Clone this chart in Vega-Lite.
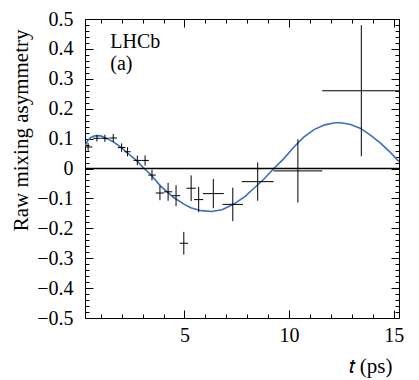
{
  "$schema": "https://vega.github.io/schema/vega-lite/v6.json",
  "width": 314,
  "height": 299,
  "autosize": {"type": "none"},
  "padding": {"left": 85, "top": 19, "right": 20, "bottom": 62},
  "background": "white",
  "config": {
    "view": {"stroke": null},
    "font": "Liberation Serif",
    "axis": {
      "labelFontSize": 20,
      "labelColor": "black",
      "titleFontSize": 21,
      "titleFontWeight": "normal",
      "titleColor": "black",
      "domainColor": "black",
      "domainWidth": 1,
      "tickColor": "black",
      "tickWidth": 1,
      "grid": false
    }
  },
  "datasets": {
    "points": [
      {"t": 0.4, "v": 0.072, "terr": 0.2, "verr": 0.013},
      {"t": 0.82, "v": 0.101, "terr": 0.18, "verr": 0.011},
      {"t": 1.2, "v": 0.101, "terr": 0.18, "verr": 0.012},
      {"t": 1.6, "v": 0.102, "terr": 0.18, "verr": 0.013},
      {"t": 2.0, "v": 0.07, "terr": 0.18, "verr": 0.014},
      {"t": 2.28, "v": 0.056, "terr": 0.15, "verr": 0.015},
      {"t": 2.75, "v": 0.027, "terr": 0.18, "verr": 0.016},
      {"t": 3.12, "v": 0.027, "terr": 0.18, "verr": 0.017},
      {"t": 3.45, "v": -0.022, "terr": 0.18, "verr": 0.018},
      {"t": 3.83, "v": -0.082, "terr": 0.2, "verr": 0.024},
      {"t": 4.22, "v": -0.078, "terr": 0.2, "verr": 0.03},
      {"t": 4.6, "v": -0.091, "terr": 0.2, "verr": 0.035},
      {"t": 4.97, "v": -0.25, "terr": 0.2, "verr": 0.038},
      {"t": 5.32, "v": -0.066, "terr": 0.22, "verr": 0.043},
      {"t": 5.68, "v": -0.104, "terr": 0.22, "verr": 0.042},
      {"t": 6.38, "v": -0.084, "terr": 0.5, "verr": 0.049},
      {"t": 7.31, "v": -0.12, "terr": 0.49, "verr": 0.056},
      {"t": 8.5, "v": -0.044, "terr": 0.76, "verr": 0.064},
      {"t": 10.42, "v": -0.008, "terr": 1.17, "verr": 0.106},
      {"t": 13.45, "v": 0.26, "terr": 1.87, "verr": 0.219}
    ],
    "curve": [
      {"t": 0.25, "v": 0.074},
      {"t": 0.37, "v": 0.092},
      {"t": 0.5, "v": 0.102},
      {"t": 0.65, "v": 0.108},
      {"t": 0.8, "v": 0.11},
      {"t": 1.0, "v": 0.109},
      {"t": 1.33, "v": 0.099},
      {"t": 1.6, "v": 0.089},
      {"t": 1.81, "v": 0.079},
      {"t": 2.05, "v": 0.066},
      {"t": 2.29, "v": 0.051},
      {"t": 2.53, "v": 0.037},
      {"t": 2.77, "v": 0.023},
      {"t": 3.07, "v": 0.0},
      {"t": 3.4, "v": -0.021},
      {"t": 3.85, "v": -0.058},
      {"t": 4.2, "v": -0.08},
      {"t": 4.5, "v": -0.098},
      {"t": 5.0, "v": -0.12},
      {"t": 5.3, "v": -0.131},
      {"t": 5.8, "v": -0.141},
      {"t": 6.3, "v": -0.144},
      {"t": 6.8, "v": -0.138},
      {"t": 7.36, "v": -0.119},
      {"t": 7.9, "v": -0.093},
      {"t": 8.32, "v": -0.066},
      {"t": 8.8, "v": -0.035},
      {"t": 9.27, "v": 0.0},
      {"t": 9.75, "v": 0.033},
      {"t": 10.23, "v": 0.072},
      {"t": 10.7, "v": 0.105},
      {"t": 11.19, "v": 0.13},
      {"t": 11.7, "v": 0.146},
      {"t": 12.2, "v": 0.153},
      {"t": 12.46, "v": 0.153},
      {"t": 12.9, "v": 0.148},
      {"t": 13.42, "v": 0.134},
      {"t": 13.9, "v": 0.111},
      {"t": 14.38, "v": 0.084},
      {"t": 14.85, "v": 0.053},
      {"t": 15.25, "v": 0.023}
    ],
    "labels": [
      {"t": 1.46, "v": 0.402, "text": "LHCb"},
      {"t": 1.46, "v": 0.329, "text": "(a)"}
    ],
    "zero": [{"v": 0}]
  },
  "resolve": {"axis": {"x": "independent", "y": "independent"}},
  "layer": [
    {
      "data": {"name": "curve"},
      "mark": {"type": "line", "color": "#3a6fc0", "strokeWidth": 1.6, "clip": true},
      "encoding": {
        "x": {
          "field": "t", "type": "quantitative",
          "scale": {"domain": [0.25, 15.25], "nice": false, "zero": false},
          "axis": {
            "orient": "bottom",
            "values": [1, 2, 3, 4, 5, 6, 7, 8, 9, 10, 11, 12, 13, 14, 15],
            "tickSize": {"condition": {"test": "datum.value % 5 === 0", "value": -8}, "value": -4},
            "labelFont": "Liberation Serif",
            "labelFontSize": 20,
            "labelPadding": 15,
            "labelExpr": "datum.value % 5 === 0 ? datum.label : ''",
            "title": "𝑡 (ps)",
            "titleFont": "Liberation Serif",
            "titleFontSize": 21,
            "titleAnchor": "end",
            "titleAlign": "right",
            "titleX": 307,
            "titlePadding": 10
          }
        },
        "y": {
          "field": "v", "type": "quantitative",
          "scale": {"domain": [-0.5, 0.5], "nice": false, "zero": false},
          "axis": {
            "orient": "left",
            "values": [-0.5, -0.48, -0.46, -0.44, -0.42, -0.4, -0.38, -0.36, -0.34, -0.32, -0.3, -0.28, -0.26, -0.24, -0.22, -0.2, -0.18, -0.16, -0.14, -0.12, -0.1, -0.08, -0.06, -0.04, -0.02, 0, 0.02, 0.04, 0.06, 0.08, 0.1, 0.12, 0.14, 0.16, 0.18, 0.2, 0.22, 0.24, 0.26, 0.28, 0.3, 0.32, 0.34, 0.36, 0.38, 0.4, 0.42, 0.44, 0.46, 0.48, 0.5],
            "format": ".1~f",
            "tickSize": {"condition": {"test": "abs(datum.value * 10 - round(datum.value * 10)) < 0.001", "value": -8}, "value": -4},
            "labelFont": "Liberation Serif",
            "labelFontSize": 20,
            "labelPadding": 20,
            "labelExpr": "abs(datum.value * 10 - round(datum.value * 10)) < 0.001 ? datum.label : ''",
            "title": "Raw mixing asymmetry",
            "titleFont": "Liberation Serif",
            "titleFontSize": 21,
            "titleAnchor": "end",
            "titleAlign": "right",
            "titleY": 10,
            "titlePadding": 5
          }
        }
      }
    },
    {
      "data": {"name": "points"},
      "mark": {"type": "errorbar", "color": "black", "thickness": 1, "clip": true},
      "encoding": {
        "x": {
          "field": "t", "type": "quantitative",
          "axis": {
            "orient": "top",
            "values": [1, 2, 3, 4, 5, 6, 7, 8, 9, 10, 11, 12, 13, 14, 15],
            "tickSize": {"condition": {"test": "datum.value % 5 === 0", "value": -8}, "value": -4},
            "labels": false,
            "title": null
          }
        },
        "y": {
          "field": "v", "type": "quantitative",
          "axis": {
            "orient": "right",
            "values": [-0.5, -0.48, -0.46, -0.44, -0.42, -0.4, -0.38, -0.36, -0.34, -0.32, -0.3, -0.28, -0.26, -0.24, -0.22, -0.2, -0.18, -0.16, -0.14, -0.12, -0.1, -0.08, -0.06, -0.04, -0.02, 0, 0.02, 0.04, 0.06, 0.08, 0.1, 0.12, 0.14, 0.16, 0.18, 0.2, 0.22, 0.24, 0.26, 0.28, 0.3, 0.32, 0.34, 0.36, 0.38, 0.4, 0.42, 0.44, 0.46, 0.48, 0.5],
            "tickSize": {"condition": {"test": "abs(datum.value * 10 - round(datum.value * 10)) < 0.001", "value": -8}, "value": -4},
            "labels": false,
            "title": null
          }
        },
        "yError": {"field": "verr"}
      }
    },
    {
      "data": {"name": "points"},
      "mark": {"type": "errorbar", "color": "black", "thickness": 1, "clip": true},
      "encoding": {
        "x": {"field": "t", "type": "quantitative", "axis": null},
        "y": {"field": "v", "type": "quantitative", "axis": null},
        "xError": {"field": "terr"}
      }
    },
    {
      "data": {"name": "zero"},
      "mark": {"type": "rule", "color": "black", "strokeWidth": 1.5},
      "encoding": {"y": {"field": "v", "type": "quantitative", "axis": null}}
    },
    {
      "data": {"name": "labels"},
      "mark": {"type": "text", "align": "left", "baseline": "alphabetic", "font": "Liberation Serif", "fontSize": 20, "color": "black"},
      "encoding": {
        "x": {"field": "t", "type": "quantitative", "axis": null},
        "y": {"field": "v", "type": "quantitative", "axis": null},
        "text": {"field": "text"}
      }
    }
  ]
}
